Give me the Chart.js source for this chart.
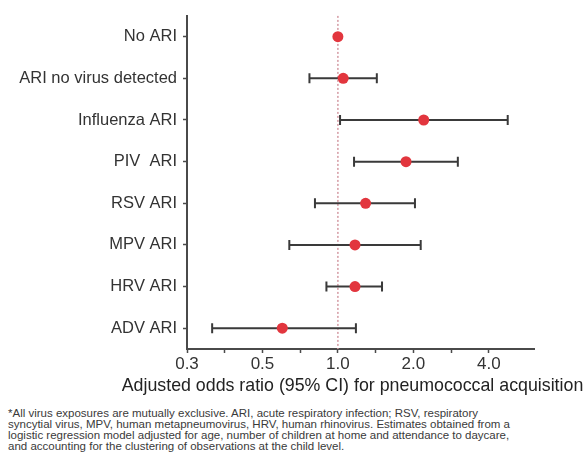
<!DOCTYPE html>
<html>
<head>
<meta charset="utf-8">
<script src="https://cdn.jsdelivr.net/npm/chart.js@4.4.0/dist/chart.umd.min.js"></script>
<style>
    body { margin: 0; background: #fff; }
    #wrap { position: relative; width: 588px; height: 468px; }
    #chartBox { position: absolute; left: 0; top: 0; width: 588px; height: 400px; }
    #note {
        position: absolute; left: 8px; top: 408px; width: 580px;
        font-family: "Liberation Sans", Arial, sans-serif; font-size: 11.5px; line-height: 10.9px;
        color: #3a3a3a; white-space: nowrap;
    }
</style>
</head>
<body>
<div id="wrap">
    <div id="chartBox"><canvas id="orChart"></canvas></div>
    <div id="note">
        *All virus exposures are mutually exclusive. ARI, acute respiratory infection; RSV, respiratory<br>
        syncytial virus, MPV, human metapneumovirus, HRV, human rhinovirus. Estimates obtained from a<br>
        logistic regression model adjusted for age, number of children at home and attendance to daycare,<br>
        and accounting for the clustering of observations at the child level.
    </div>
</div>
<script>
// Exposure groups, top to bottom
const categories = ['No ARI', 'ARI no virus detected', 'Influenza ARI', 'PIV  ARI',
    'RSV ARI', 'MPV ARI', 'HRV ARI', 'ADV ARI'];

// Adjusted odds ratios with 95% CI bounds
const oddsRatio = [1.0, 1.05, 2.2, 1.87, 1.29, 1.17, 1.17, 0.60];
const ciLower = [1.0, 0.77, 1.02, 1.16, 0.81, 0.64, 0.90, 0.315];
const ciUpper = [1.0, 1.43, 4.76, 3.01, 2.03, 2.14, 1.50, 1.18];

// Log2 axis ticks (minor ticks have empty labels)
const tickValues = [0.25, 0.354, 0.5, 0.707, 1, 1.414, 2, 2.83, 4];
const tickLabels = ['0.3', '', '0.5', '', '1.0', '', '2.0', '', '4.0'];
const refValue = 1;
const xTitle = 'Adjusted odds ratio (95% CI) for pneumococcal acquisition';

const axisColor = '#4a4a4a';
const fontFamily = '"Liberation Sans", Arial, sans-serif';

// horizontal CI whiskers with end caps, drawn under the points
const errorBars = {
    id: 'errorBars',
    beforeDatasetsDraw(chart) {
        const { ctx, scales: { x, y } } = chart;
        ctx.save();
        ctx.strokeStyle = '#3a3a3a';
        ctx.lineWidth = 2;
        categories.forEach((c, i) => {
            if (ciLower[i] === ciUpper[i]) return;
            const py = y.getPixelForValue(i);
            const x0 = x.getPixelForValue(ciLower[i]);
            const x1 = x.getPixelForValue(ciUpper[i]);
            ctx.beginPath();
            ctx.moveTo(x0, py); ctx.lineTo(x1, py);
            ctx.moveTo(x0, py - 5); ctx.lineTo(x0, py + 5);
            ctx.moveTo(x1, py - 5); ctx.lineTo(x1, py + 5);
            ctx.stroke();
        });
        ctx.restore();
    }
};

// dotted reference line at OR = 1
const refLine = {
    id: 'refLine',
    beforeDatasetsDraw(chart) {
        const { ctx, chartArea, scales: { x } } = chart;
        const px = x.getPixelForValue(refValue);
        ctx.save();
        ctx.strokeStyle = '#d49aa3';
        ctx.lineWidth = 1.5;
        ctx.setLineDash([2, 2]);
        ctx.beginPath();
        ctx.moveTo(px, chartArea.top);
        ctx.lineTo(px, chartArea.bottom);
        ctx.stroke();
        ctx.restore();
    }
};

// x axis title, wider than the plot so drawn without the scale's maxWidth squeeze
const axisTitle = {
    id: 'axisTitle',
    afterDraw(chart) {
        const { ctx, scales: { x } } = chart;
        ctx.save();
        ctx.font = '17.8px ' + fontFamily;
        ctx.fillStyle = '#222';
        ctx.textAlign = 'center';
        ctx.textBaseline = 'middle';
        ctx.fillText(xTitle, (x.left + x.right) / 2 - 8, x.bottom - 14);
        ctx.restore();
    }
};

new Chart(document.getElementById('orChart'), {
    type: 'scatter',
    data: {
        labels: categories,
        datasets: [{
            data: categories.map((c, i) => ({ x: oddsRatio[i], y: c })),
            backgroundColor: '#e2363e',
            borderWidth: 0,
            pointRadius: 5.5,
            pointHoverRadius: 5.5
        }]
    },
    options: {
        responsive: true,
        maintainAspectRatio: false,
        animation: false,
        layout: { padding: { top: 12, right: 54, left: 0, bottom: 0 } },
        plugins: {
            legend: { display: false },
            tooltip: { enabled: false }
        },
        scales: {
            x: {
                type: 'logarithmic',
                min: 0.25,
                max: 6.06,
                afterBuildTicks: (scale) => {
                    scale.ticks = tickValues.map(v => ({ value: v }));
                },
                afterFit: (scale) => { scale.height = 51; },
                border: { display: true, color: axisColor, width: 2 },
                grid: {
                    drawOnChartArea: false,
                    drawTicks: true,
                    tickLength: 4,
                    tickColor: axisColor,
                    tickWidth: 1.5
                },
                ticks: {
                    autoSkip: false,
                    maxRotation: 0,
                    padding: 1,
                    color: '#333',
                    font: { family: fontFamily, size: 17 },
                    callback: (value, index) => tickLabels[index]
                }
            },
            y: {
                type: 'category',
                labels: categories,
                offset: true,
                afterFit: (scale) => { scale.width = 187; },
                border: { display: true, color: axisColor, width: 2 },
                grid: {
                    drawOnChartArea: false,
                    drawTicks: true,
                    tickLength: 4,
                    tickColor: axisColor,
                    tickWidth: 1.5,
                    offset: false
                },
                ticks: {
                    padding: 6,
                    color: '#333',
                    font: { family: fontFamily, size: 16.5 }
                }
            }
        }
    },
    plugins: [refLine, errorBars, axisTitle]
});
</script>
</body>
</html>
